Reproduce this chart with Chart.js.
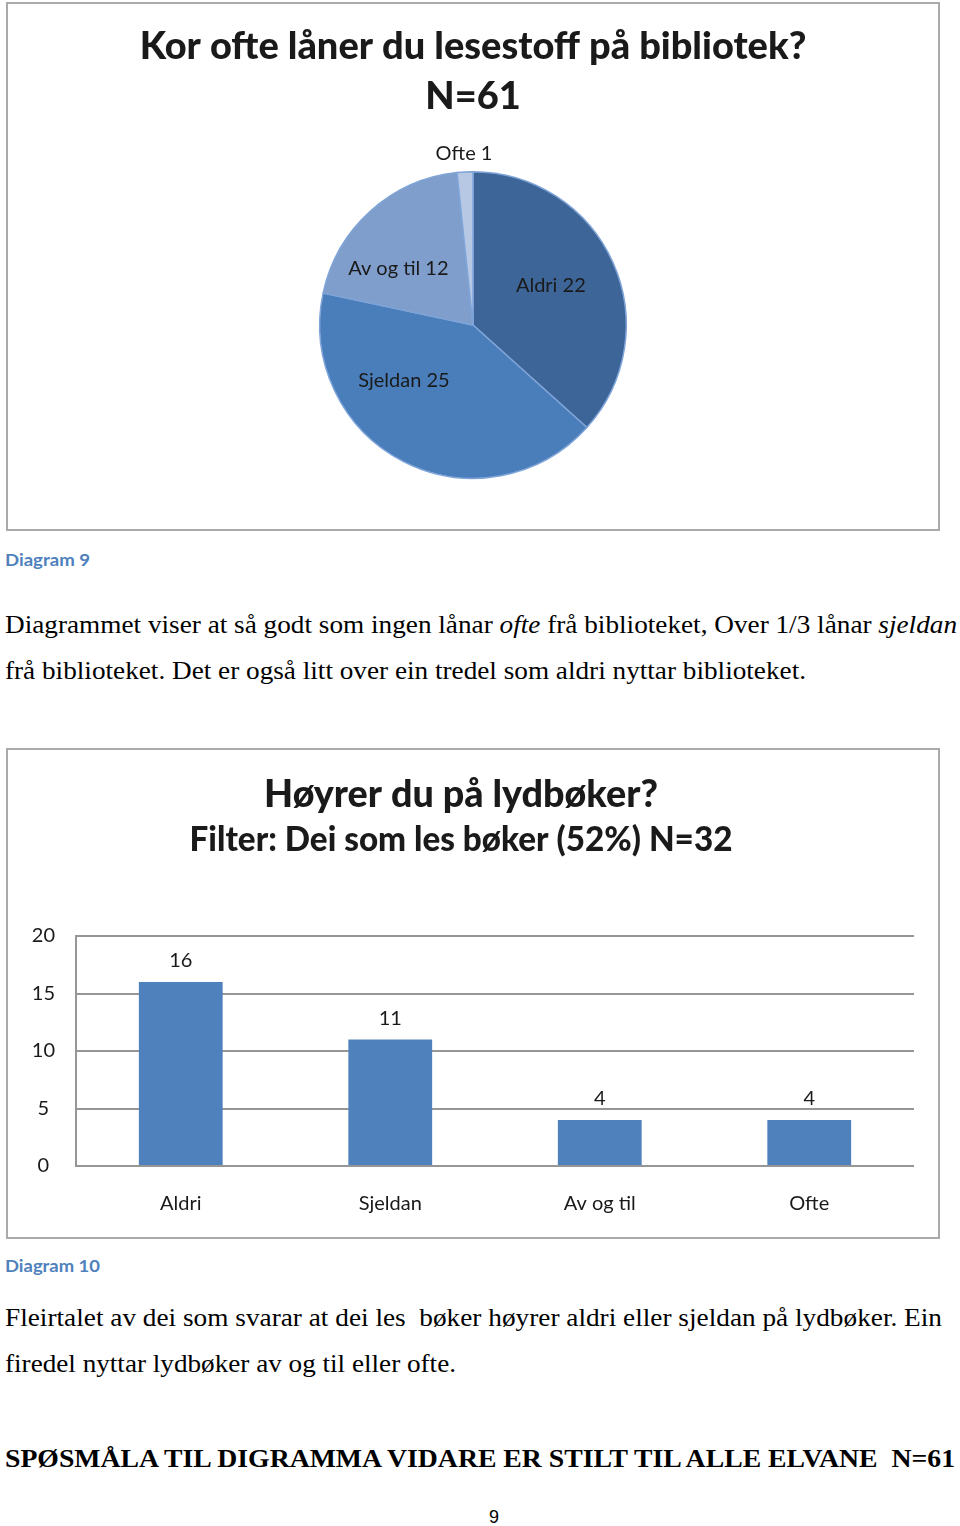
<!DOCTYPE html>
<html><head><meta charset="utf-8">
<script src="https://cdn.jsdelivr.net/npm/chart.js@4/dist/chart.umd.min.js"></script>
<style>
html,body{margin:0;padding:0;background:#fff;}
body{width:960px;height:1526px;position:relative;overflow:hidden;}
.box{position:absolute;border:2px solid #aaaaaa;box-sizing:border-box;background:#fff;}
.box canvas{position:absolute;left:0;top:0;}
.line{position:absolute;left:5px;white-space:pre;line-height:1;transform-origin:0 0;color:#000;}
.serif{font-family:"Liberation Serif","Times New Roman",serif;font-size:26px;}
.bold{font-weight:bold;font-size:26px;}
.cap{font-family:Lato,"Open Sans",sans-serif;font-weight:bold;font-size:17px;color:#4F81BD;}
.pnum{font-family:"Liberation Sans",Arial,sans-serif;font-size:19px;}
.bl{display:inline-block;width:0;height:0;vertical-align:baseline;}
</style></head>
<body>
<div class="box" style="left:6px;top:2px;width:934px;height:529px;"><canvas id="pie" width="930" height="525"></canvas></div>
<div class="line cap" data-w="85" data-b="566">Diagram 9<span class="bl"></span></div>
<div class="line serif" data-w="952" data-b="633">Diagrammet viser at så godt som ingen lånar <i>ofte</i> frå biblioteket, Over 1/3 lånar <i>sjeldan</i><span class="bl"></span></div>
<div class="line serif" data-w="801" data-b="679">frå biblioteket. Det er også litt over ein tredel som aldri nyttar biblioteket.<span class="bl"></span></div>
<div class="box" style="left:6px;top:748px;width:934px;height:491px;"><canvas id="bar" width="930" height="487"></canvas></div>
<div class="line cap" data-w="95" data-b="1272">Diagram 10<span class="bl"></span></div>
<div class="line serif" data-w="937" data-b="1326">Fleirtalet av dei som svarar at dei les  bøker høyrer aldri eller sjeldan på lydbøker. Ein<span class="bl"></span></div>
<div class="line serif" data-w="451" data-b="1372">firedel nyttar lydbøker av og til eller ofte.<span class="bl"></span></div>
<div class="line serif bold" data-w="950" data-b="1467">SPØSMÅLA TIL DIGRAMMA VIDARE ER STILT TIL ALLE ELVANE  N=61<span class="bl"></span></div>
<div class="line pnum" data-w="10" data-b="1523" data-x="489">9<span class="bl"></span></div>
<script>
// ---- data ----
const pieTitle = ['Kor ofte låner du lesestoff på bibliotek?', 'N=61'];
const pieLabels = ['Aldri', 'Sjeldan', 'Av og til', 'Ofte'];
const pieValues = [22, 25, 12, 1];
const barTitle = 'Høyrer du på lydbøker?';
const barSubtitle = 'Filter: Dei som les bøker (52%) N=32';
const barLabels = ['Aldri', 'Sjeldan', 'Av og til', 'Ofte'];
const barValues = [16, 11, 4, 4];
const yTicks = [0, 5, 10, 15, 20];

// ---- text layout ----
document.querySelectorAll('.line').forEach(el => {
  const bl = el.querySelector('.bl');
  const base = bl.offsetTop;
  el.style.top = (parseFloat(el.dataset.b) - base) + 'px';
  if (el.dataset.x) el.style.left = el.dataset.x + 'px';
  const w = el.getBoundingClientRect().width;
  const k = parseFloat(el.dataset.w) / w;
  el.style.transform = 'scaleX(' + k + ')';
});

const mctx = document.createElement('canvas').getContext('2d');
function fitSize(text, weight, family, target) {
  mctx.font = weight + ' 100px ' + family;
  return 100 * target / mctx.measureText(text).width;
}
const FAM = 'Lato';
const TW = '900';
const TXT = '#1a1a1a';

// ---- pie ----
const pieSize = fitSize(pieTitle[0], TW, FAM, 667);
const pieLH = 50;
const pieLabelPlugin = {
  id: 'pieLabels',
  afterDatasetsDraw(chart, args, opts) {
    const meta = chart.getDatasetMeta(0);
    const ctx = chart.ctx;
    ctx.save();
    ctx.font = '20px ' + FAM;
    ctx.fillStyle = TXT;
    ctx.textAlign = 'center';
    ctx.textBaseline = 'middle';
    meta.data.forEach((arc, i) => {
      const p = opts.place[i];
      const mid = (arc.startAngle + arc.endAngle) / 2 + p.da * Math.PI / 180;
      const r = arc.outerRadius * p.f;
      ctx.fillText(pieLabels[i] + ' ' + pieValues[i], arc.x + Math.cos(mid) * r, arc.y + Math.sin(mid) * r);
    });
    ctx.restore();
  }
};
new Chart(document.getElementById('pie'), {
  type: 'pie',
  data: {
    labels: pieLabels,
    datasets: [{
      data: pieValues,
      backgroundColor: ['#3D6598', '#4A7EBB', '#7F9ECB', '#B6C8E4'],
      borderColor: '#7FA4D8',
      borderWidth: 1.5
    }]
  },
  options: {
    responsive: false,
    animation: false,
    layout: { padding: { bottom: 50 } },
    plugins: {
      legend: { display: false },
      tooltip: { enabled: false },
      title: {
        display: true,
        text: pieTitle,
        color: TXT,
        font: { family: FAM, weight: TW, size: pieSize, lineHeight: pieLH / pieSize },
        padding: { top: 18, bottom: 49 }
      },
      pieLabels: {
        place: [{ f: 0.57, da: -3 }, { f: 0.58, da: 24 }, { f: 0.61, da: -11 }, { f: 1.12, da: 0 }]
      }
    }
  },
  plugins: [pieLabelPlugin]
});

// ---- bar ----
const s1 = fitSize(barTitle, TW, FAM, 394);
const s2 = fitSize(barSubtitle, TW, FAM, 543);
const LH1 = 1.2 * s1, LH2 = 1.2 * s2;
const c1 = 45, c2 = 90, areaTop = 186;
const subTop = c1 + LH1 / 2;
const barValuePlugin = {
  id: 'barValues',
  afterDatasetsDraw(chart) {
    const meta = chart.getDatasetMeta(0);
    const ctx = chart.ctx;
    ctx.save();
    ctx.font = '20px ' + FAM;
    ctx.fillStyle = TXT;
    ctx.textAlign = 'center';
    ctx.textBaseline = 'middle';
    meta.data.forEach((bar, i) => {
      ctx.fillText(String(barValues[i]), bar.x, bar.y - 21);
    });
    ctx.restore();
  }
};
new Chart(document.getElementById('bar'), {
  type: 'bar',
  data: {
    labels: barLabels,
    datasets: [{ data: barValues, backgroundColor: '#4F81BD', barPercentage: 0.4, categoryPercentage: 1 }]
  },
  options: {
    responsive: false,
    animation: false,
    layout: { padding: { left: 0, right: 24, top: 0, bottom: 0 } },
    plugins: {
      legend: { display: false },
      tooltip: { enabled: false },
      title: {
        display: true, text: barTitle, color: TXT,
        font: { family: FAM, weight: TW, size: s1, lineHeight: 1.2 },
        padding: { top: c1 - LH1 / 2, bottom: 0 }
      },
      subtitle: {
        display: true, text: barSubtitle, color: TXT,
        font: { family: FAM, weight: TW, size: s2, lineHeight: 1.2 },
        padding: { top: c2 - LH2 / 2 - subTop, bottom: areaTop - c2 - LH2 / 2 }
      }
    },
    scales: {
      x: {
        grid: { display: false },
        border: { display: false },
        ticks: { font: { family: FAM, size: 20 }, color: TXT, padding: 18 },
        afterFit(s) { s.height = 71; }
      },
      y: {
        min: 0, max: 20,
        afterBuildTicks(s) { s.ticks = yTicks.map(v => ({ value: v })); },
        ticks: { font: { family: FAM, size: 20 }, color: TXT, padding: 21, crossAlign: 'center' },
        grid: { color: '#969696', lineWidth: 2, drawTicks: false },
        border: { display: true, color: '#969696', width: 2 },
        afterFit(s) { s.width = 68; }
      }
    }
  },
  plugins: [barValuePlugin]
});
</script>
</body></html>
